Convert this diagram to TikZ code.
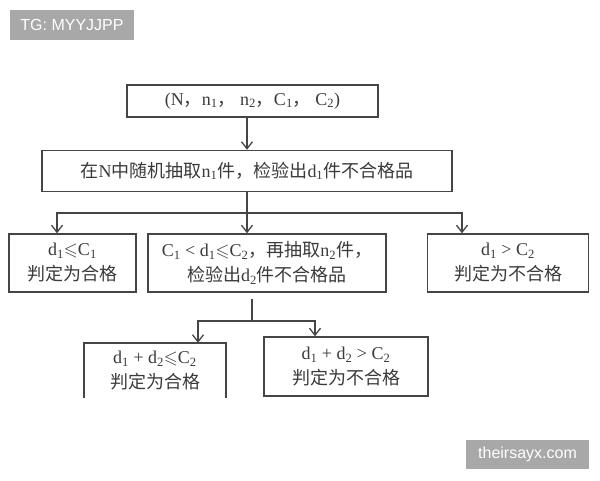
\documentclass[tikz,border=0pt]{standalone}
\usepackage{amssymb}
\usepackage{fontspec}
\setmainfont{Liberation Serif}
\newfontfamily\cjk{Noto Sans CJK SC}
\newfontfamily\wmfont{Liberation Sans}
\newcommand\idx[1]{\textsubscript{#1}}
\usetikzlibrary{arrows.meta}
\definecolor{linegray}{HTML}{454545}
\definecolor{textgray}{HTML}{3A3A3A}
\definecolor{markgray}{HTML}{A8A8A8}

\begin{document}
\begin{tikzpicture}[x=1pt,y=-1pt,
    box/.style={draw=linegray, line width=1.5pt, text=textgray, align=center,
        inner sep=0pt, font=\fontsize{18}{25}\selectfont},
    openbox/.style={text=textgray, align=center, inner sep=0pt,
        font=\fontsize{18}{25}\selectfont},
    link/.style={draw=linegray, line width=1.5pt},
    arr/.style={link, -{Straight Barb[length=7pt,width=11pt,line width=1.3pt]}},
    wmark/.style={fill=markgray, text=white, inner sep=0pt,
        font=\wmfont\fontsize{16}{16}\selectfont}]
    \useasboundingbox (0,0) rectangle (600,480);

    % watermarks
    \node[wmark, minimum width=124, minimum height=30] (tg) at (72,25) {TG: MYYJJPP};
    \node[wmark, minimum width=123, minimum height=29] (site) at (527.5,454.5) {theirsayx.com};

    % boxes
    \node[box, minimum width=251, minimum height=32] (params) at (252.5,101)
        {(N{\cjk ，}n\idx{1}{\cjk ，}\ n\idx{2}{\cjk ，}C\idx{1}{\cjk ，}\ C\idx{2})};
    \node[box, minimum width=410, minimum height=41] (draw1) at (247,171)
        {{\cjk 在}N{\cjk 中随机抽取}n\idx{1}{\cjk 件，检验出}d\idx{1}{\cjk 件不合格品}};
    \node[box, minimum width=127, minimum height=58] (pass1) at (72.5,263)
        {d\idx{1}$\leqslant$C\idx{1}\\{\cjk 判定为合格}};
    \node[box, minimum width=238, minimum height=58] (draw2) at (267,263)
        {C\idx{1} < d\idx{1}$\leqslant$C\idx{2}{\cjk ，再抽取}n\idx{2}{\cjk 件，}\\{\cjk 检验出}d\idx{2}{\cjk 件不合格品}};
    \node[box, minimum width=161, minimum height=58] (fail1) at (508,263)
        {d\idx{1} > C\idx{2}\\{\cjk 判定为不合格}};
    \node[openbox, minimum width=142, minimum height=55] (pass2) at (155,370.5)
        {d\idx{1} + d\idx{2}$\leqslant$C\idx{2}\\{\cjk 判定为合格}};
    \draw[link] (pass2.south west) -- (pass2.north west) -- (pass2.north east) -- (pass2.south east);
    \node[box, minimum width=164, minimum height=59] (fail2) at (346,366.5)
        {d\idx{1} + d\idx{2} > C\idx{2}\\{\cjk 判定为不合格}};

    % connectors
    \coordinate (fork1) at (247,213);
    \coordinate (fork2) at (252,321);
    \draw[arr] (params.south -| draw1.north) -- (draw1.north);
    \draw[link] (draw1.south) -- (fork1);
    \draw[arr] (fork1) -| ([xshift=-15.5pt]pass1.north);
    \draw[arr] (fork1) -- (fork1 |- draw2.north);
    \draw[arr] (fork1) -| ([xshift=-46pt]fail1.north);
    \draw[link, shorten <=6pt] (draw2.south -| fork2) -- (fork2);
    \draw[arr] (fork2) -| ([xshift=43pt]pass2.north);
    \draw[arr] (fork2) -| ([xshift=-31pt]fail2.north);
\end{tikzpicture}
\end{document}
